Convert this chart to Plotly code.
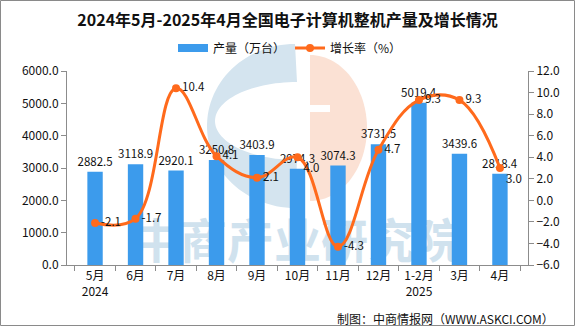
import numpy as np
import plotly.graph_objects as go

categories = ["5月", "6月", "7月", "8月", "9月", "10月", "11月", "12月", "1-2月", "3月", "4月"]
tick_labels = ["5月<br>2024", "6月", "7月", "8月", "9月", "10月", "11月", "12月", "1-2月<br>2025", "3月", "4月"]
output = [2882.5, 3118.9, 2920.1, 3250.8, 3403.9, 2974.3, 3074.3, 3731.5, 5019.4, 3439.6, 2818.4]
growth = [-2.1, -1.7, 10.4, 4.1, 2.1, 4.0, -4.3, 4.7, 9.3, 9.3, 3.0]
growth_label_pos = ["middle right", "middle right", "middle right", "middle right", "middle right",
                    "bottom right", "middle right", "middle right", "middle right", "middle right",
                    "bottom right"]

W, H = 575, 326
ml, mr, mt, mb = 67, 47, 71, 61
pw, ph = W - ml - mr, H - mt - mb

FONT = "Noto Sans CJK SC"
BLUE = "#3C9BEC"
ORANGE = "#FF6A1C"


def px(x):
    return (x - ml) / pw


def py(y):
    return (H - mb - y) / ph


def path_from(points):
    s = "M " + " L ".join(f"{px(x):.5f},{py(y):.5f}" for x, y in points)
    return s + " Z"


fig = go.Figure()
# watermark text (on the bottom-most subplot so bars cover it)
fig.add_trace(go.Scatter(
    x=["10月"], y=[py(246)], mode="text", text=["<b>中商产业研究院</b>"],
    textfont=dict(family=FONT, size=47, color="#D0E2EE"),
    hoverinfo="skip", showlegend=False, yaxis="y", cliponaxis=False,
))
fig.add_trace(go.Bar(
    x=categories, y=output, name="产量（万台）", yaxis="y2",
    marker=dict(color=BLUE, line=dict(width=0)),
    width=0.38, showlegend=False,
    text=[f"{v:.1f}" for v in output], textposition="outside", constraintext="none",
    textfont=dict(family=FONT, size=11.5, color="#111"),
    cliponaxis=False,
))
# legend swatch for the bars (wide rectangle as in the reference)
fig.add_trace(go.Scatter(
    x=[None], y=[None], name="产量（万台）", yaxis="y2", mode="lines",
    line=dict(color=BLUE, width=8), hoverinfo="skip",
))
fig.add_trace(go.Scatter(
    x=categories, y=growth, name="增长率（%）", yaxis="y3",
    mode="lines+markers+text",
    line=dict(color=ORANGE, width=3, shape="spline", smoothing=1.1),
    marker=dict(color=ORANGE, size=8),
    text=[f"{v:.1f}" for v in growth], textposition=growth_label_pos,
    textfont=dict(family=FONT, size=11.5, color="#111"),
    cliponaxis=False,
))

# logo watermark geometry (pixel space)
t1 = np.linspace(np.pi / 2, 3 * np.pi / 2, 60)
outer = [(295 + 88 * np.cos(a), 126 - 82 * np.sin(a)) for a in t1]
t2 = np.linspace(3 * np.pi / 2, np.pi / 2, 60)
inner = [(297 + 82 * np.cos(a), 121 - 39 * np.sin(a)) for a in t2]
c_shape = outer + inner
t3 = np.linspace(np.pi / 2, -np.pi / 2, 60)
peach = [(310 + 57 * np.cos(a), 128 - 73 * np.sin(a)) for a in t3]

shapes = [
    dict(type="path", xref="paper", yref="paper", layer="below",
         path=path_from(c_shape), fillcolor="#D4E4EF", line=dict(width=0)),
    dict(type="path", xref="paper", yref="paper", layer="below",
         path=path_from(peach), fillcolor="#FBE1D4", line=dict(width=0)),
    dict(type="rect", xref="paper", yref="paper", layer="below",
         x0=px(310), x1=px(330), y0=py(112), y1=py(105),
         fillcolor="white", line=dict(width=0)),
    # outer border
    dict(type="rect", xref="paper", yref="paper", layer="above",
         x0=px(0.5), x1=px(W - 0.5), y0=py(H - 0.5), y1=py(0.5),
         line=dict(color="#8a8a8a", width=1), fillcolor="rgba(0,0,0,0)"),
]

annotations = [
    dict(text="制图：中商情报网（WWW.ASKCI.COM）", xref="paper", yref="paper",
         x=px(556), y=py(318), showarrow=False, xanchor="right", yanchor="middle",
         font=dict(family=FONT, size=12, color="#111")),
]

axis_common = dict(showline=True, linecolor="#8c8c8c", linewidth=1, ticks="outside",
                   tickcolor="#8c8c8c", ticklen=5, showgrid=False, zeroline=False,
                   tickfont=dict(family=FONT, size=12, color="#111"))

fig.update_layout(
    width=W, height=H,
    margin=dict(l=ml, r=mr, t=mt, b=mb),
    paper_bgcolor="white", plot_bgcolor="rgba(0,0,0,0)",
    title=dict(text="<b>2024年5月-2025年4月全国电子计算机整机产量及增长情况</b>",
               x=0.5, xanchor="center", y=1 - 20 / H, yanchor="middle",
               font=dict(family=FONT, size=16, color="#111")),
    legend=dict(orientation="h", x=px(290), xanchor="center", y=py(48), yanchor="middle",
                font=dict(family=FONT, size=12, color="#111"), bgcolor="rgba(0,0,0,0)",
                itemwidth=30, traceorder="normal"),
    xaxis=dict(**axis_common, type="category", categoryorder="array",
               categoryarray=categories, tickmode="array", tickvals=categories,
               ticktext=tick_labels, tickson="boundaries"),
    yaxis=dict(range=[0, 1], visible=False, fixedrange=True),
    yaxis2=dict(**axis_common, range=[0, 6000], dtick=1000, tickformat=".1f",
                overlaying="y", side="left"),
    yaxis3=dict(**axis_common, range=[-6, 12], dtick=2, tickformat=".1f",
                overlaying="y", side="right"),
    shapes=shapes, annotations=annotations,
    showlegend=True,
)

fig.write_html("out.html")
